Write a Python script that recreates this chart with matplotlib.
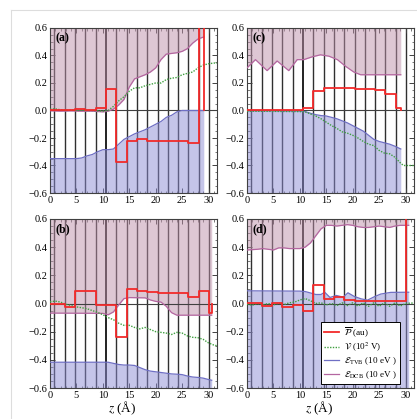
import matplotlib
matplotlib.use("Agg")
import matplotlib.pyplot as plt
from matplotlib.lines import Line2D
from matplotlib.ticker import MultipleLocator

plt.rcParams['font.family'] = ['Liberation Serif', 'DejaVu Serif']
plt.rcParams['mathtext.fontset'] = 'stix'
plt.rcParams['axes.unicode_minus'] = True

# ---------------- data ----------------
layer_z = [0.85, 2.8, 4.75, 6.7, 8.65, 10.6, 12.55, 14.5, 16.45, 18.4,
           20.35, 22.3, 24.25, 26.2, 28.15, 30.1]
interface_z = 10.6

# panel (a)
a_dcb_z = [0, 2, 4, 6, 8, 10, 11, 12, 13, 14, 15, 16, 17, 18, 19, 20, 21, 22, 23, 24, 25, 26, 27, 28, 29.1]
a_dcb = [-0.002, -0.005, -0.003, -0.005, -0.005, -0.01, -0.005, 0.01, 0.04, 0.08, 0.17, 0.23, 0.245,
         0.26, 0.28, 0.31, 0.37, 0.41, 0.415, 0.42, 0.43, 0.45, 0.49, 0.52, 0.535]
a_tvb_z = [0, 5, 6, 7, 8, 9, 10, 11, 12, 13, 14, 15, 16, 17, 18, 19, 20, 21, 22, 23, 24, 25, 29.1]
a_tvb = [-0.35, -0.35, -0.345, -0.33, -0.32, -0.30, -0.285, -0.285, -0.28, -0.245, -0.21, -0.19,
         -0.17, -0.155, -0.14, -0.12, -0.10, -0.08, -0.05, -0.035, -0.01, 0.0, 0.0]
a_v_z = [0, 1, 2, 3, 4, 5, 6, 7, 8, 9, 10, 11, 12, 13, 14, 15, 16, 17, 18, 19, 20, 21, 22, 23,
         24, 25, 26, 27, 28, 29, 30, 31, 31.6]
a_v = [0.01, 0.012, 0.005, 0.0, 0.003, 0.0, 0.002, 0.0, 0.0, -0.002, -0.005, 0.0, 0.03, 0.07, 0.10,
       0.14, 0.165, 0.165, 0.18, 0.19, 0.20, 0.20, 0.225, 0.235, 0.24, 0.26, 0.27, 0.28, 0.31, 0.33,
       0.34, 0.345, 0.345]
a_p_edges = [0, 2.8, 4.75, 6.7, 8.65, 10.6, 12.55, 14.5, 16.45, 18.4, 20.35, 22.3, 24.25, 26.2,
             28.15, 29.05, 29.1]
a_p = [0.003, 0.0, 0.01, 0.005, 0.02, 0.155, -0.375, -0.22, -0.21, -0.225, -0.225, -0.225,
       -0.225, -0.235, 2.0, 0.0]

# panel (b)
b_dcb_z = [0, 10, 11, 12, 13, 14, 15, 18, 19, 20, 21, 22, 23, 24, 30.6]
b_dcb = [-0.068, -0.07, -0.08, -0.06, -0.01, 0.035, 0.042, 0.04, 0.025, 0.015, 0.01, -0.02,
         -0.065, -0.083, -0.083]
b_tvb_z = [0, 11, 12, 13, 14, 15, 16, 17, 18, 19, 20, 21, 22, 23, 24, 25, 26, 27, 28, 29, 30, 30.6]
b_tvb = [-0.417, -0.417, -0.425, -0.433, -0.437, -0.437, -0.44, -0.455, -0.47, -0.48, -0.485,
         -0.49, -0.495, -0.50, -0.502, -0.505, -0.515, -0.522, -0.525, -0.53, -0.54, -0.545]
b_v_z = [0, 1, 2, 3, 4, 5, 6, 7, 8, 9, 10, 11, 12, 13, 14, 15, 16, 17, 18, 19, 20, 21, 22, 23,
         24, 25, 26, 27, 28, 29, 30, 31, 31.6]
b_v = [0.012, 0.017, 0.01, -0.005, -0.015, -0.024, -0.03, -0.037, -0.05, -0.063, -0.08, -0.10,
       -0.115, -0.14, -0.155, -0.155, -0.17, -0.18, -0.17, -0.185, -0.20, -0.205, -0.21, -0.22,
       -0.205, -0.21, -0.23, -0.24, -0.243, -0.255, -0.28, -0.295, -0.30]
b_p_edges = [0, 2.8, 4.75, 8.65, 12.55, 14.5, 16.45, 18.4, 20.35, 22.3, 24.25, 26.2, 28.15,
             30.1, 30.6, 30.65]
b_p = [-0.004, -0.027, 0.09, -0.01, -0.235, 0.105, 0.088, 0.08, 0.077, 0.075, 0.073, 0.048,
       0.087, -0.065, 0.0]

# panel (c)
c_dcb_z = [0, 1.6, 3.8, 5.7, 7.9, 9.5, 10.75, 12.3, 13.9, 15.5, 17.1, 18.7, 20.2, 21.5, 29.1]
c_dcb = [0.31, 0.37, 0.29, 0.36, 0.29, 0.37, 0.37, 0.39, 0.405, 0.395, 0.37, 0.32, 0.28, 0.26, 0.26]
c_tvb_z = [0, 10, 11, 12, 13, 14, 15, 16, 17, 18, 19, 20, 21, 22, 23, 24, 25, 26, 27, 28, 29.1]
c_tvb = [-0.003, -0.005, -0.008, -0.02, -0.03, -0.037, -0.04, -0.05, -0.06, -0.075, -0.09, -0.11,
         -0.13, -0.15, -0.18, -0.21, -0.225, -0.235, -0.245, -0.26, -0.28]
c_v_z = [0, 10, 11, 12, 13, 14, 15, 16, 17, 18, 19, 20, 21, 22, 23, 24, 25, 26, 27, 28, 29,
         29.6, 31.6]
c_v = [-0.005, -0.008, -0.01, -0.025, -0.04, -0.06, -0.085, -0.11, -0.13, -0.155, -0.165, -0.18,
       -0.20, -0.225, -0.245, -0.255, -0.29, -0.31, -0.315, -0.34, -0.38, -0.40, -0.40]
c_p_edges = [0, 8.65, 10.6, 12.55, 14.5, 16.45, 18.4, 20.35, 22.3, 24.25, 26.2, 28.15, 29.05, 29.1]
c_p = [0.003, 0.005, 0.02, 0.14, 0.166, 0.162, 0.16, 0.158, 0.157, 0.147, 0.123, 0.02, 0.0]

# panel (d)
d_dcb_z = [0, 2, 3, 4, 5, 6, 7, 8, 9, 10, 11, 12, 13, 14, 15, 16, 17, 18, 19, 20, 21, 22, 23,
           24, 25, 26, 27, 28, 29, 30.6]
d_dcb = [0.38, 0.385, 0.39, 0.385, 0.38, 0.395, 0.395, 0.39, 0.39, 0.39, 0.40, 0.43, 0.48, 0.53,
         0.555, 0.555, 0.55, 0.555, 0.56, 0.555, 0.545, 0.54, 0.54, 0.545, 0.55, 0.545, 0.54,
         0.55, 0.555, 0.555]
d_tvb_z = [0, 10, 11, 12, 13, 14, 14.7, 15.7, 16.9, 18.2, 19.1, 20.3, 21.6, 22.8, 24.1, 25.3,
           27.2, 30.6]
d_tvb = [0.09, 0.088, 0.085, 0.075, 0.064, 0.064, 0.08, 0.043, 0.057, 0.045, 0.076, 0.05, 0.033,
         0.024, 0.048, 0.067, 0.079, 0.08]
d_v_z = [0, 1, 2, 3, 4, 5, 6, 7, 8, 9, 10, 11, 12, 13, 14, 15, 16, 17, 18, 19, 20, 21, 22, 23,
         24, 25, 26, 27, 28, 29, 30, 31, 31.6]
d_v = [-0.005, -0.012, 0.0, -0.01, 0.0, -0.01, 0.002, -0.008, 0.005, 0.01, 0.025, 0.035, 0.02,
       0.0, 0.005, -0.01, 0.0, -0.015, 0.005, -0.015, 0.005, -0.018, 0.005, -0.02, 0.005, -0.02,
       0.005, -0.02, 0.005, -0.018, 0.0, 0.003, 0.003]
d_p_edges = [0, 2.8, 4.75, 6.7, 8.65, 10.6, 12.55, 14.5, 16.45, 18.4, 20.35, 22.3, 24.25, 26.2,
             28.15, 30.1, 32.0]
d_p = [0.007, -0.02, 0.005, -0.025, -0.01, -0.05, 0.13, 0.035, 0.045, 0.022, 0.02, 0.018, 0.02,
       0.015, 0.015, 2.0]

panel_labels = ['(a)', '(b)', '(c)', '(d)']
legend_labels = [r'$\overline{\mathcal{P}}$ (au)', r'$\mathcal{V}$ (10$^{2}$ V)',
                 r'$\mathcal{E}_{\rm TVB}$ (10 eV )', r'$\mathcal{E}_{\rm DCB}$ (10 eV )']

# ---------------- style ----------------
RED = '#f22a2a'
GREEN = '#3f9f3f'
BLUE_LINE = '#6f6fc4'
BLUE_FILL = (0.55, 0.55, 0.83)
PURP_LINE = '#b466a0'
PURP_FILL = (0.75, 0.57, 0.67)
FILL_ALPHA = 0.5
YTOP, YBOT = 0.6, -0.6
XMAX = 31.6


def steps(edges, vals):
    xs, ys = [], []
    for i, v in enumerate(vals):
        xs += [edges[i], edges[i + 1]]
        ys += [v, v]
    return xs, ys


fig = plt.figure(figsize=(4.17, 4.19), dpi=100)
W, H = 417.0, 419.0
pos = {
    'a': [50 / W, 1 - 193 / H, 167 / W, 165 / H],
    'c': [247 / W, 1 - 193 / H, 167 / W, 165 / H],
    'b': [50 / W, 1 - 388 / H, 167 / W, 169 / H],
    'd': [247 / W, 1 - 388 / H, 167 / W, 169 / H],
}

panels = [
    ('a', a_dcb_z, a_dcb, a_tvb_z, a_tvb, a_v_z, a_v, a_p_edges, a_p, 0),
    ('b', b_dcb_z, b_dcb, b_tvb_z, b_tvb, b_v_z, b_v, b_p_edges, b_p, 1),
    ('c', c_dcb_z, c_dcb, c_tvb_z, c_tvb, c_v_z, c_v, c_p_edges, c_p, 2),
    ('d', d_dcb_z, d_dcb, d_tvb_z, d_tvb, d_v_z, d_v, d_p_edges, d_p, 3),
]

for key, dz, dv, tz, tv, vz, vv, pe, pv, li in panels:
    ax = fig.add_axes(pos[key])
    ax.set_xlim(0, XMAX)
    ax.set_ylim(YBOT, YTOP)
    for z in layer_z:
        if z == interface_z:
            ax.axvline(z, color='#111111', lw=1.3, zorder=1)
        else:
            ax.axvline(z, color='#303030', lw=1.0, zorder=1)
    ax.fill_between(dz, dv, YTOP, color=PURP_FILL, alpha=FILL_ALPHA, lw=0, zorder=2)
    ax.fill_between(tz, YBOT, tv, color=BLUE_FILL, alpha=FILL_ALPHA, lw=0, zorder=2)
    ax.axhline(0, color='#404040', lw=0.8, zorder=3)
    l_dcb, = ax.plot(dz, dv, color=PURP_LINE, lw=0.9, zorder=4)
    l_tvb, = ax.plot(tz, tv, color=BLUE_LINE, lw=0.9, zorder=4)
    l_v, = ax.plot(vz, vv, color=GREEN, lw=1.0, ls=(0, (1, 1)), zorder=5)
    sx, sy = steps(pe, pv)
    l_p, = ax.plot(sx, sy, color=RED, lw=1.3, zorder=6)

    ax.xaxis.set_major_locator(MultipleLocator(5))
    ax.xaxis.set_minor_locator(MultipleLocator(1))
    ax.yaxis.set_major_locator(MultipleLocator(0.2))
    ax.yaxis.set_minor_locator(MultipleLocator(0.05))
    ax.tick_params(which='both', direction='in', top=True, right=True, labelsize=7.5,
                   pad=2, color='#404040')
    ax.tick_params(which='major', length=3.5, width=0.7)
    ax.tick_params(which='minor', length=1.8, width=0.5)
    ax.yaxis.set_major_formatter(matplotlib.ticker.FuncFormatter(
        lambda v, p: ('%.1f' % v).replace('-', '\u2212')))
    for s in ax.spines.values():
        s.set_color('#404040')
        s.set_linewidth(0.8)
    ax.text(0.03, 0.975, panel_labels[li], transform=ax.transAxes, fontsize=8.5,
            fontweight='bold', va='top', ha='left', zorder=10)
    if key in ('b', 'd'):
        ax.set_xlabel(r'$z$ (Å)', fontsize=9.5)
        ax.xaxis.set_label_coords(0.43, -0.07)
    if key == 'd':
        leg = ax.legend([l_p, l_v, l_tvb, l_dcb], legend_labels, loc='lower left',
                        bbox_to_anchor=(0.443, 0.024), borderaxespad=0, fontsize=6.6,
                        handlelength=1.6, handletextpad=0.6, labelspacing=0.2,
                        borderpad=0.35, fancybox=False, framealpha=1, edgecolor='black')
        leg.get_frame().set_linewidth(0.7)
        leg.set_zorder(20)

# faint outer frame
fig.add_artist(Line2D([10.5 / W, 10.5 / W], [0, 1 - 10 / H], color='#dddddd', lw=0.8))
fig.add_artist(Line2D([10.5 / W, 1], [1 - 10 / H, 1 - 10 / H], color='#dddddd', lw=0.8))

fig.savefig('out.png', dpi=100)
